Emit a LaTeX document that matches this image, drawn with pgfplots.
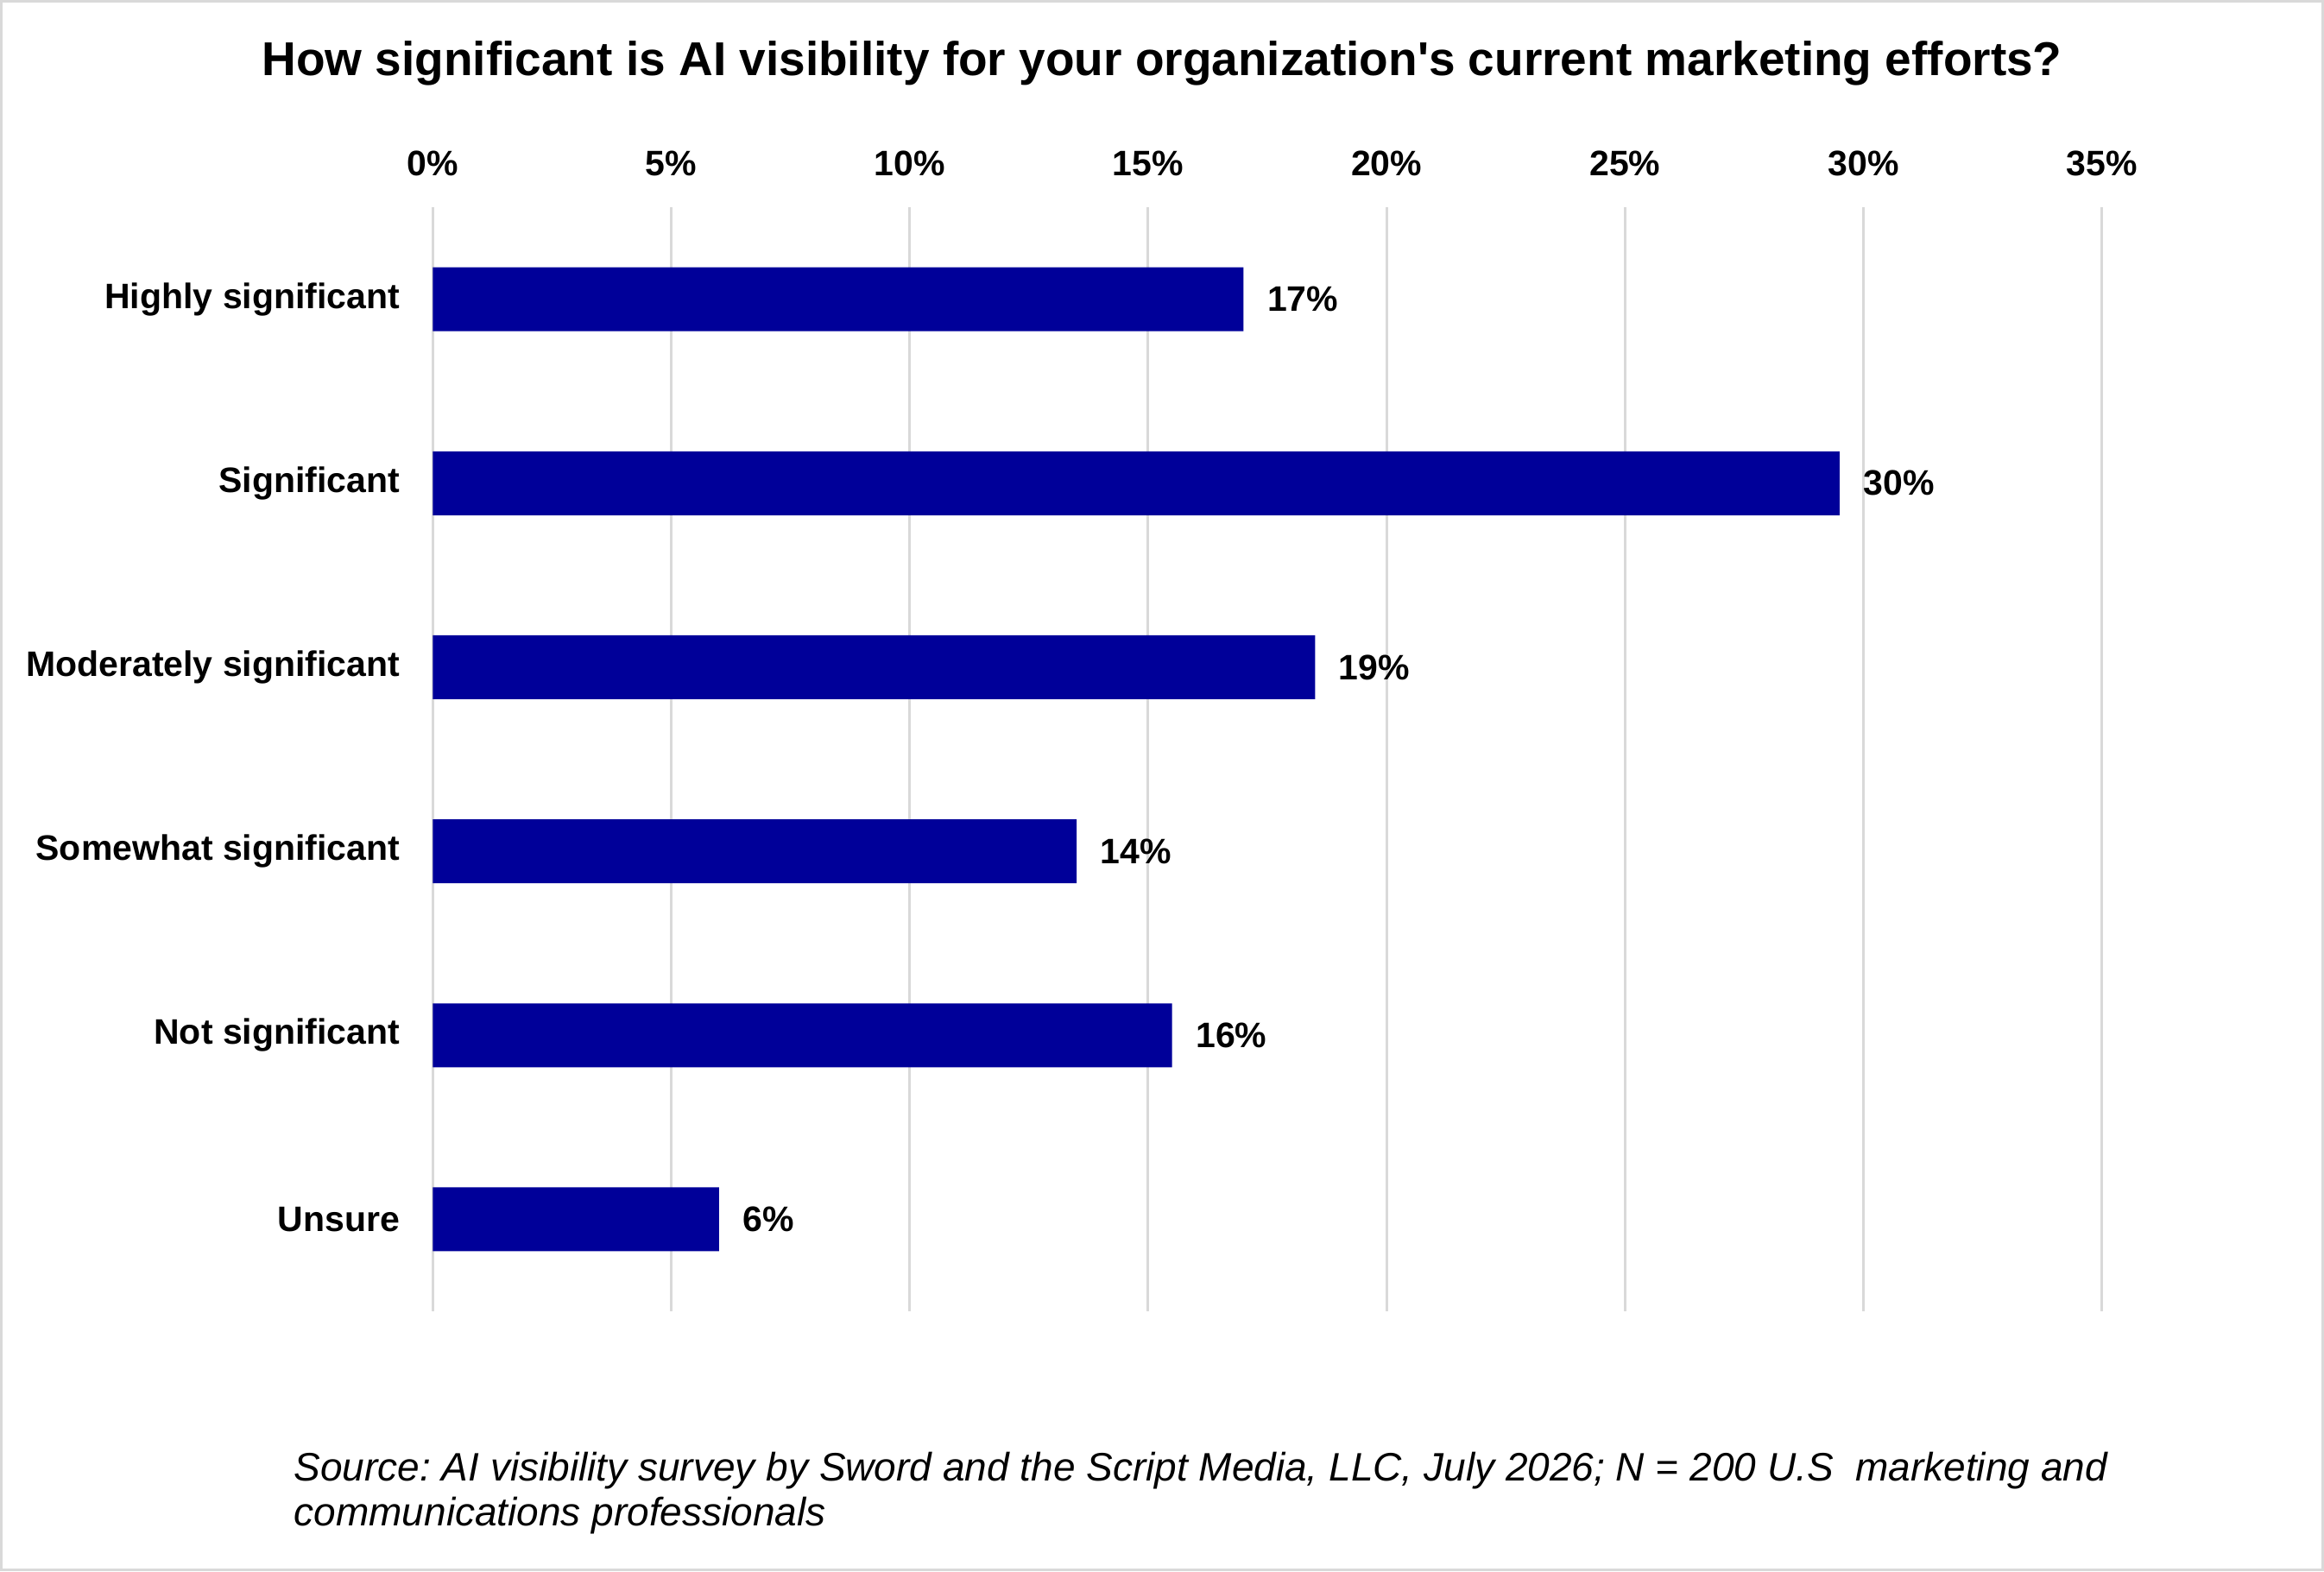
\documentclass[border=0pt]{standalone}
\usepackage{fontspec}
\setmainfont{Liberation Sans}[Ligatures=TeXOff]
\usepackage{pgfplots}
\pgfplotsset{compat=1.18}
\definecolor{barblue}{RGB}{0,0,153}
\definecolor{gridgray}{RGB}{217,217,217}
\begin{document}
\frenchspacing
\begin{tikzpicture}
\path[use as bounding box] (0,0) rectangle (807.6pt,-546pt);
\draw[gridgray, line width=0.9pt] (0.45pt,-0.45pt) rectangle (807.15pt,-545.55pt);
\begin{axis}[
  at={(150.42pt,-455.7pt)}, anchor=south west,
  scale only axis, width=580pt, height=383.7pt,
  xbar, bar width=22.2pt,
  xmin=0, xmax=35, ymin=-0.5, ymax=5.5, y dir=reverse,
  xtick={0,5,...,35},
  xticklabel={\pgfmathprintnumber{\tick}\%},
  xticklabel pos=upper,
  ytick={0,1,2,3,4,5},
  yticklabels={Highly significant,Significant,Moderately significant,Somewhat significant,Not significant,Unsure},
  /pgf/number format/assume math mode=true,
  axis line style={draw=none},
  major tick length=0pt,
  tick style={draw=none},
  xmajorgrids, major grid style={gridgray, line width=0.9pt},
  xticklabel style={font=\fontsize{12.3}{14}\selectfont\bfseries, anchor=base, inner sep=0pt, yshift=11.1pt},
  yticklabel style={font=\fontsize{12.3}{14}\selectfont\bfseries, anchor=east, inner sep=0pt, xshift=-11.3pt},
  point meta=explicit symbolic,
  nodes near coords={\pgfplotspointmeta\%},
  nodes near coords style={font=\fontsize{12.3}{14}\selectfont\bfseries, anchor=west, inner sep=0pt, xshift=8.1pt, black},
  clip=false,
]
\addplot[fill=barblue, draw=none] coordinates {
  (17,0) [17]
  (29.5,1) [30]
  (18.5,2) [19]
  (13.5,3) [14]
  (15.5,4) [16]
  (6,5) [6]
};
\end{axis}
\node[anchor=base, font=\fontsize{16.5}{19}\selectfont\bfseries, inner sep=0pt] at (403.8pt,-26.1pt) {How significant is AI visibility for your organization's current marketing efforts?};
\node[anchor=base west, font=\fontsize{13.8}{16}\selectfont\itshape, inner sep=0pt] at (102pt,-514.5pt) {Source: AI visibility survey by Sword and the Script Media, LLC, July 2026; N = 200 U.S\ \ marketing and};
\node[anchor=base west, font=\fontsize{13.8}{16}\selectfont\itshape, inner sep=0pt] at (102pt,-530.1pt) {communications professionals};
\end{tikzpicture}
\end{document}
